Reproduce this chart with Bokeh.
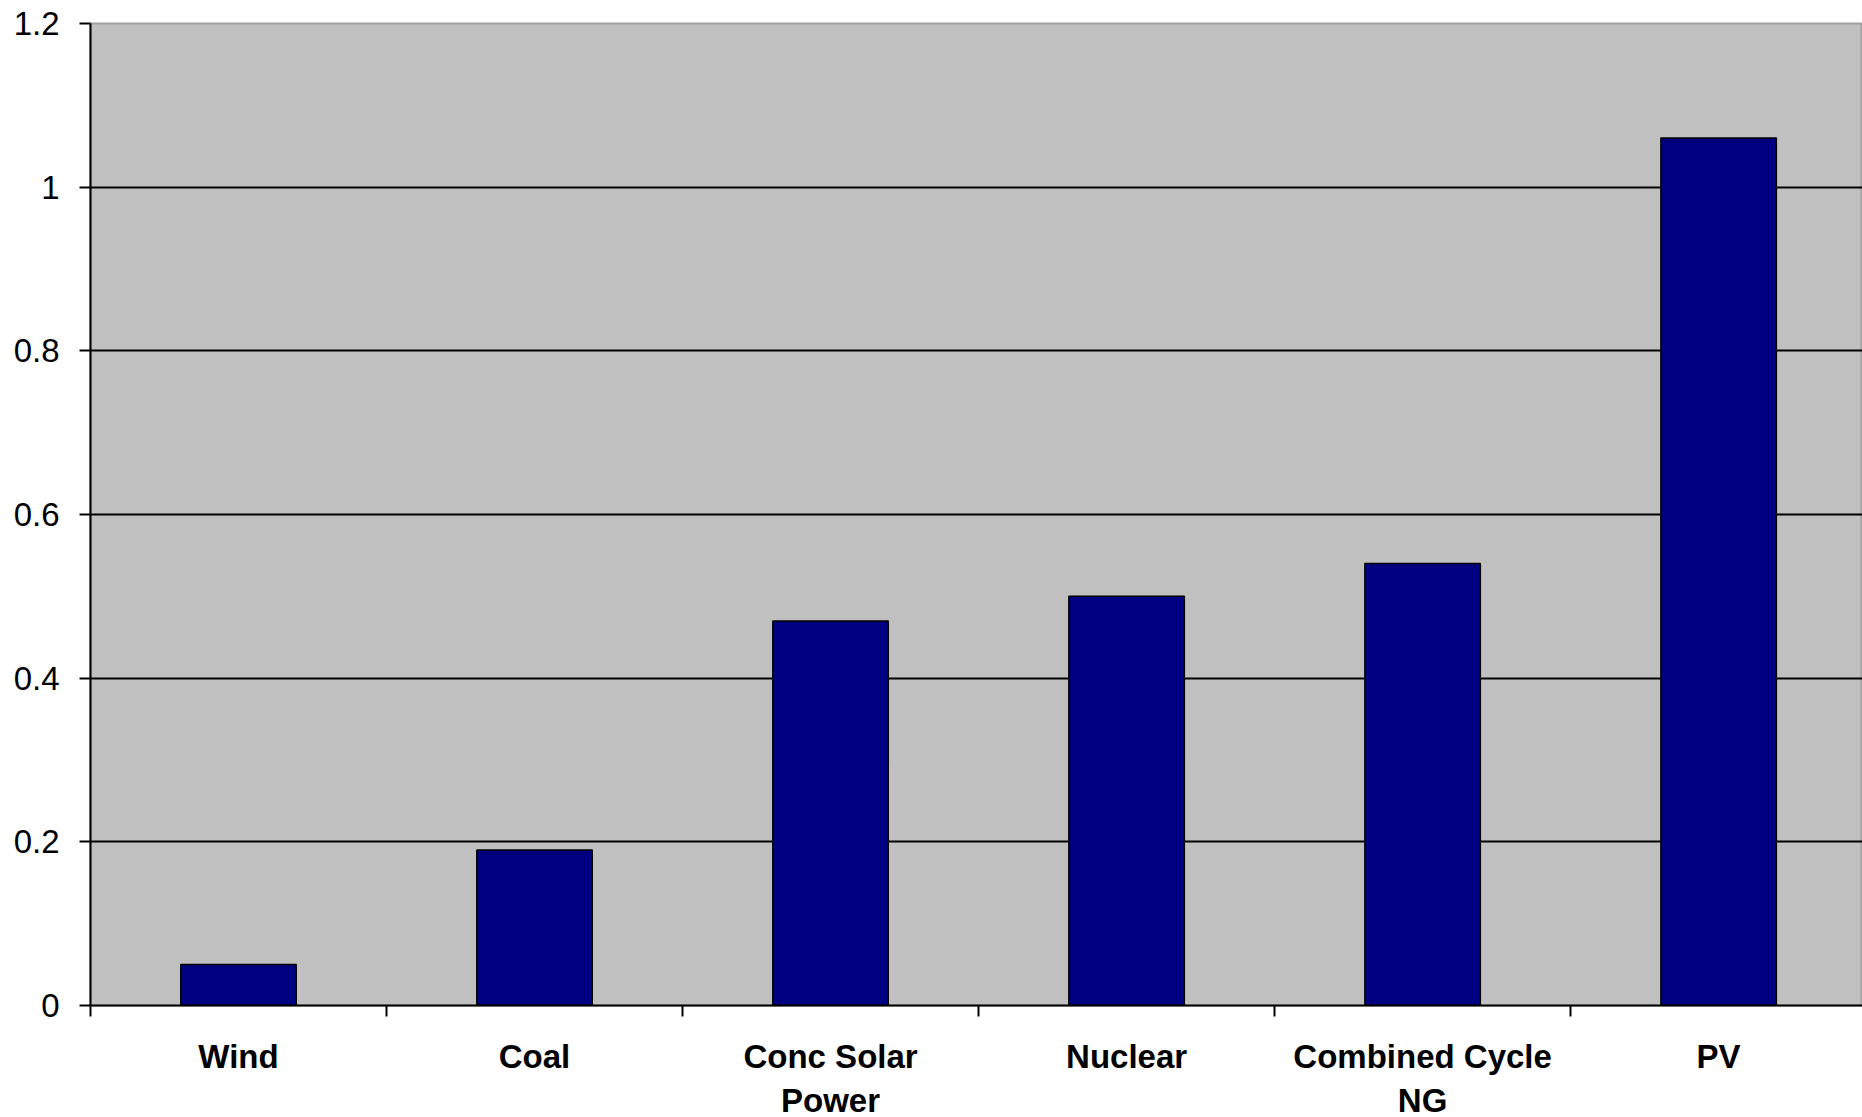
from bokeh.plotting import figure
from bokeh.models import Range1d, FixedTicker
from bokeh.embed import file_html
from bokeh.resources import INLINE

categories = ["Wind", "Coal", "Conc Solar\nPower", "Nuclear", "Combined Cycle\nNG", "PV"]
values = [0.05, 0.19, 0.47, 0.50, 0.54, 1.06]
y_ticks = [0, 0.2, 0.4, 0.6, 0.8, 1, 1.2]
y_tick_labels = ["0", "0.2", "0.4", "0.6", "0.8", "1", "1.2"]

n = len(categories)
xs = [i + 0.5 for i in range(n)]
bounds = list(range(n + 1))

p = figure(frame_width=1772, frame_height=982,
           x_range=Range1d(0, 5.986), y_range=Range1d(0, 1.2),
           output_backend="svg", toolbar_location=None,
           min_border_left=90, min_border_right=0, min_border_top=23, min_border_bottom=0,
           background_fill_color="#c0c0c0", border_fill_color="white")

p.outline_line_color = "#a0a0a0"
p.outline_line_width = 2

p.vbar(x=xs, top=values, width=0.39, fill_color="#000080",
       line_color="black", line_width=1.5)

p.xgrid.visible = False
p.ygrid.ticker = FixedTicker(ticks=y_ticks[1:-1])
p.ygrid.grid_line_color = "black"
p.ygrid.grid_line_width = 2

xa = p.xaxis[0]
xa.ticker = FixedTicker(ticks=xs, minor_ticks=bounds)
xa.major_label_overrides = {x: c for x, c in zip(xs, categories)}
xa.major_tick_out = 0
xa.major_tick_in = 0
xa.minor_tick_out = 11
xa.minor_tick_in = 0
xa.minor_tick_line_color = "black"
xa.minor_tick_line_width = 2
xa.axis_line_color = "black"
xa.axis_line_width = 2
xa.major_label_standoff = 21
xa.major_label_text_font = "Liberation Sans"
xa.major_label_text_font_size = "33px"
xa.major_label_text_font_style = "bold"
xa.major_label_text_color = "black"
xa.major_label_text_line_height = 1.2

ya = p.yaxis[0]
ya.ticker = FixedTicker(ticks=y_ticks)
ya.major_label_overrides = {t: s for t, s in zip(y_ticks, y_tick_labels)}
ya.major_tick_out = 11
ya.major_tick_in = 0
ya.major_tick_line_color = "black"
ya.major_tick_line_width = 2
ya.minor_tick_out = 0
ya.minor_tick_in = 0
ya.axis_line_color = "black"
ya.axis_line_width = 2
ya.major_label_standoff = 20
ya.major_label_text_font = "Liberation Sans"
ya.major_label_text_font_size = "33px"
ya.major_label_text_color = "black"

open("out.html", "w").write(file_html(p, INLINE))
